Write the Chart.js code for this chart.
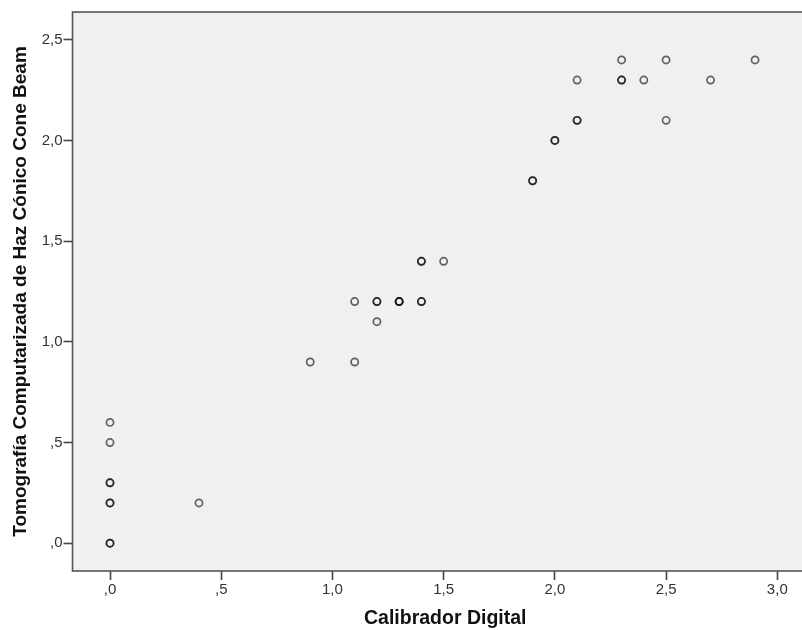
<!DOCTYPE html>
<html>
<head>
<meta charset="utf-8">
<script src="https://cdn.jsdelivr.net/npm/chart.js@4/dist/chart.umd.min.js"></script>
<style>
  html, body { margin: 0; padding: 0; background: #fff; overflow: hidden; }
  /* plot runs past the right edge of the picture, like the original export */
  #frame { width: 802px; height: 630px; overflow: hidden; position: relative; }
  #scatter { position: absolute; left: 0; top: 0; }
</style>
</head>
<body>
<div id="frame"><canvas id="scatter" width="818" height="630"></canvas></div>
<script>
  'use strict';

  // Calibrador Digital (x) vs Tomografia CBCT (y), one entry per case
  var calibrador = [0, 0, 0, 0, 0, 0, 0, 0, 0.4, 0.9, 1.1, 1.1, 1.2, 1.2, 1.2, 1.3, 1.3, 1.3, 1.4,
    1.4, 1.4, 1.4, 1.5, 1.9, 1.9, 2.0, 2.0, 2.1, 2.1, 2.1, 2.3, 2.3, 2.3, 2.4, 2.5, 2.5, 2.7, 2.9];
  var tomografia = [0, 0, 0.2, 0.2, 0.3, 0.3, 0.5, 0.6, 0.2, 0.9, 0.9, 1.2, 1.2, 1.2, 1.1, 1.2, 1.2, 1.2, 1.2,
    1.2, 1.4, 1.4, 1.4, 1.8, 1.8, 2.0, 2.0, 2.1, 2.1, 2.3, 2.3, 2.3, 2.4, 2.3, 2.4, 2.1, 2.3, 2.4];

  var xTicks = [0, 0.5, 1.0, 1.5, 2.0, 2.5, 3.0];
  var yTicks = [0, 0.5, 1.0, 1.5, 2.0, 2.5];

  var xTitle = 'Calibrador Digital';
  var yTitle = 'Tomografía Computarizada de Haz Cónico Cone Beam';

  var points = calibrador.map(function (x, i) {
    return {x: x, y: tomografia[i]};
  });

  // spss style labels: ,0  ,5  1,0 ...
  function spssLabel(v) {
    return v.toFixed(1).replace('.', ',').replace(/^0/, '');
  }

  // grey plot background + frame
  var plotFrame = {
    id: 'plotFrame',
    beforeDraw: function (chart) {
      var a = chart.chartArea, ctx = chart.ctx;
      ctx.save();
      ctx.fillStyle = '#f0f0f0';
      ctx.fillRect(a.left, a.top, a.right - a.left, a.bottom - a.top);
      ctx.restore();
    },
    afterDatasetsDraw: function (chart) {
      var a = chart.chartArea, ctx = chart.ctx;
      ctx.save();
      ctx.strokeStyle = '#555';
      ctx.lineWidth = 1.6;
      ctx.strokeRect(a.left, a.top, a.right - a.left, a.bottom - a.top);
      ctx.restore();
    }
  };

  var fontFamily = 'Arial, "Liberation Sans", sans-serif';
  var tickFont = {family: fontFamily, size: 15};

  var ctx = document.getElementById('scatter').getContext('2d');
  window.myScatter = new Chart(ctx, {
    type: 'scatter',
    data: {
      datasets: [{
        data: points,
        pointStyle: 'circle',
        pointRadius: 3.6,
        pointHoverRadius: 3.6,
        borderWidth: 1.7,
        borderColor: 'rgba(0, 0, 0, 0.6)',
        backgroundColor: 'rgba(0, 0, 0, 0)'
      }]
    },
    options: {
      responsive: false,
      animation: false,
      events: [],
      layout: {autoPadding: false, padding: {top: 12, right: 0, left: 0, bottom: 0}},
      plugins: {
        legend: {display: false},
        tooltip: {enabled: false}
      },
      scales: {
        x: {
          type: 'linear',
          min: -0.1686,
          max: 3.183,
          afterBuildTicks: function (scale) {
            scale.ticks = xTicks.map(function (v) { return {value: v}; });
          },
          afterFit: function (scale) {
            scale.height = 59;
            scale.paddingLeft = 0;
            scale.paddingRight = 0;
          },
          grid: {drawOnChartArea: false, drawTicks: true, tickLength: 9, tickWidth: 1.6, tickColor: '#444'},
          border: {display: false},
          ticks: {
            font: tickFont,
            color: '#333',
            padding: 1,
            maxRotation: 0,
            autoSkip: false,
            callback: function (v) { return spssLabel(v); }
          },
          title: {
            display: true, text: xTitle, color: '#111', padding: {top: 0, bottom: 0},
            font: {family: fontFamily, size: 19.5, weight: 'bold'}
          }
        },
        y: {
          type: 'linear',
          min: -0.138,
          max: 2.638,
          afterBuildTicks: function (scale) {
            scale.ticks = yTicks.map(function (v) { return {value: v}; });
          },
          afterFit: function (scale) {
            scale.width = 72.5;
            scale.paddingTop = 0;
            scale.paddingBottom = 0;
          },
          grid: {drawOnChartArea: false, drawTicks: true, tickLength: 9, tickWidth: 1.6, tickColor: '#444'},
          border: {display: false},
          ticks: {
            font: tickFont,
            color: '#333',
            padding: 1,
            autoSkip: false,
            callback: function (v) { return spssLabel(v); }
          },
          title: {
            display: true, text: yTitle, color: '#111', padding: {top: 9, bottom: 0},
            font: {family: fontFamily, size: 19, weight: 'bold'}
          }
        }
      }
    },
    plugins: [plotFrame]
  });
</script>
</body>
</html>
